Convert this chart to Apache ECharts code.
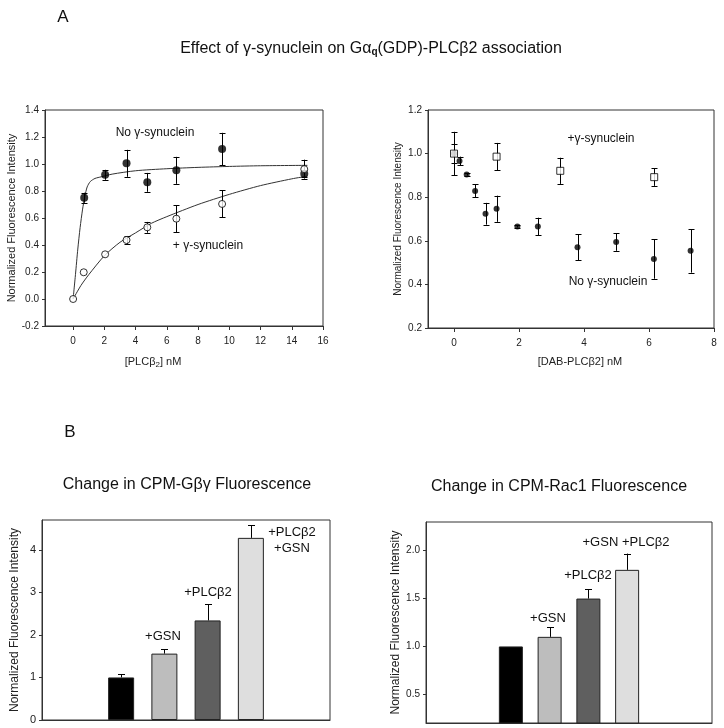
<!DOCTYPE html>
<html><head><meta charset="utf-8">
<script src="https://cdn.jsdelivr.net/npm/echarts@6/dist/echarts.min.js"></script>
<style>html,body{margin:0;padding:0;background:#fff}#c{width:724px;height:728px}</style>
</head><body><div id="c"></div>
<script>
// ---------- Panel A (left): [PLCβ2] titration ----------
const plcConc      = [0.71, 2.05, 3.42, 4.75, 6.61, 9.54, 14.8];
const noGsnMean    = [0.75, 0.92, 1.005, 0.864, 0.953, 1.111, 0.927];
const noGsnErr     = [0.037, 0.037, 0.10, 0.07, 0.10, 0.12, 0.025];
const plcConcGsn   = [0, 0.68, 2.05, 3.42, 4.75, 6.61, 9.54, 14.8];
const gsnMean      = [0, 0.198, 0.331, 0.437, 0.531, 0.595, 0.704, 0.962];
const gsnErr       = [0, 0, 0, 0.03, 0.04, 0.10, 0.10, 0.07];
const fitNoGsnX    = [0, 0.15, 0.3, 0.45, 0.6, 0.75, 0.9, 1.1, 1.4, 1.8, 2.5, 4, 6, 8, 10, 12, 15];
const fitNoGsnY    = [0, 0.18, 0.37, 0.53, 0.66, 0.76, 0.83, 0.87, 0.893, 0.905, 0.925, 0.95, 0.965, 0.975, 0.982, 0.987, 0.99];
const fitGsnX      = [0, 0.5, 1, 2, 3, 4, 5, 6, 8, 10, 12, 14, 15];
const fitGsnY      = [0, 0.1, 0.18, 0.32, 0.42, 0.49, 0.56, 0.61, 0.7, 0.775, 0.84, 0.89, 0.91];
const aLeftXTicks  = [0, 2, 4, 6, 8, 10, 12, 14, 16];

// ---------- Panel A (right): [DAB-PLCβ2] titration ----------
const dabConcGsn   = [0, 1.31, 3.27, 6.16];
const dabGsnMean   = [1.0, 0.986, 0.921, 0.892];
const dabGsnErr    = [0.10, 0.063, 0.06, 0.04];
const dabConc      = [0, 0.17, 0.39, 0.65, 0.97, 1.31, 1.95, 2.58, 3.80, 4.99, 6.15, 7.28];
const dabMean      = [1.0, 0.966, 0.904, 0.829, 0.724, 0.747, 0.666, 0.666, 0.57, 0.594, 0.516, 0.554];
const dabErr       = [0.042, 0.02, 0.005, 0.03, 0.05, 0.06, 0.005, 0.04, 0.06, 0.04, 0.09, 0.10];
const aRightXTicks = [0, 2, 4, 6, 8];

// ---------- Panel B ----------
const barPos       = [1, 2, 3, 4];
const barColors    = ['#000000', '#bdbdbd', '#5f5f5f', '#dedede'];
const gbgMean      = [1.0, 1.56, 2.34, 4.28];
const gbgErr       = [0.07, 0.10, 0.38, 0.30];
const gbgTicks     = [0, 1, 2, 3, 4];
const rac1Mean     = [1.0, 1.1, 1.5, 1.8];
const rac1Err      = [0, 0.1, 0.1, 0.17];
const rac1Ticks    = [0.5, 1.0, 1.5, 2.0];

const FONT = 'Liberation Sans, Arial, sans-serif';
const NARROW = 'Liberation Sans Narrow, Liberation Sans, Arial, sans-serif';
const AX = '#333';

const zip2 = (xs, ys) => xs.map((x, i) => [x, ys[i]]);
const zip3 = (xs, ys, es) => xs.map((x, i) => [x, ys[i], es[i]]);

function errRender(capHalf, upOnly) {
  return function (params, api) {
    const x = api.value(0), y = api.value(1), e = api.value(2);
    if (!e) return null;
    const p0 = api.coord([x, upOnly ? y : y - e]);
    const p1 = api.coord([x, y + e]);
    const st = { stroke: '#000', lineWidth: 1 };
    const cx = Math.round(p0[0]) + 0.5;
    const ch = [
      { type: 'line', shape: { x1: cx, y1: p0[1], x2: cx, y2: p1[1] }, style: st },
      { type: 'line', shape: { x1: cx - capHalf, y1: Math.round(p1[1]) + 0.5, x2: cx + capHalf, y2: Math.round(p1[1]) + 0.5 }, style: st }
    ];
    if (!upOnly) ch.push({ type: 'line', shape: { x1: cx - capHalf, y1: Math.round(p0[1]) + 0.5, x2: cx + capHalf, y2: Math.round(p0[1]) + 0.5 }, style: st });
    return { type: 'group', children: ch };
  };
}

const gridBase = { show: true, borderColor: AX, borderWidth: 1, backgroundColor: '#fff' };
const grids = [
  Object.assign({ left: 45, top: 110, width: 278, height: 216 }, gridBase),
  Object.assign({ left: 428, top: 110, width: 286, height: 218 }, gridBase),
  Object.assign({ left: 42, top: 520, width: 288, height: 200 }, gridBase),
  Object.assign({ left: 426, top: 522, width: 286, height: 201 }, gridBase)
];

function valX(gi, min, max, ticks, fs) {
  return {
    type: 'value', gridIndex: gi, min: min, max: max,
    axisLine: { onZero: false, lineStyle: { color: AX } },
    axisTick: { show: true, customValues: ticks, length: 4, lineStyle: { color: AX } },
    axisLabel: { customValues: ticks, fontSize: fs, fontFamily: NARROW, color: '#222', margin: 10 },
    splitLine: { show: false }
  };
}
function valY(gi, min, max, ticks, fs, dec, name, nameFs, gap) {
  return {
    type: 'value', gridIndex: gi, min: min, max: max,
    axisLine: { onZero: false, lineStyle: { color: AX } },
    axisTick: { show: true, customValues: ticks, length: 3, lineStyle: { color: AX } },
    axisLabel: { customValues: ticks, fontSize: fs, fontFamily: gi < 2 ? NARROW : FONT, color: '#222', margin: 6,
      formatter: v => v.toFixed(dec) },
    splitLine: { show: false },
    name: name, nameLocation: 'middle', nameGap: gap, nameRotate: 90,
    nameTextStyle: { fontSize: nameFs, fontFamily: gi === 1 ? NARROW : FONT, color: '#222' }
  };
}
function barX(gi, min, max) {
  return {
    type: 'value', gridIndex: gi, min: min, max: max,
    axisLine: { onZero: false, lineStyle: { color: AX } },
    axisTick: { show: false }, axisLabel: { show: false }, splitLine: { show: false }
  };
}

const yTicksA1 = [-0.2, 0, 0.2, 0.4, 0.6, 0.8, 1.0, 1.2, 1.4];
const yTicksA2 = [0.2, 0.4, 0.6, 0.8, 1.0, 1.2];

const option = {
  animation: false,
  backgroundColor: '#fff',
  grid: grids,
  xAxis: [
    valX(0, -1.8, 16, aLeftXTicks, 10),
    valX(1, -0.8, 8, aRightXTicks, 10),
    barX(2, -0.83, 5.83),
    barX(3, -1.19, 6.19)
  ],
  yAxis: [
    valY(0, -0.2, 1.4, yTicksA1, 10, 1, 'Normalized Fluorescence Intensity', 11, 27),
    valY(1, 0.2, 1.2, yTicksA2, 10, 1, 'Normalized Fluorescence Intensity', 10, 25),
    valY(2, 0, 4.7, gbgTicks, 11, 0, 'Normalized Fluorescence Intensity', 12, 21),
    valY(3, 0.2, 2.3, rac1Ticks, 10, 1, 'Normalized Fluorescence Intensity', 12, 24)
  ],
  series: [
    // Panel A left
    { type: 'line', xAxisIndex: 0, yAxisIndex: 0, data: zip2(fitNoGsnX, fitNoGsnY), showSymbol: false,
      smooth: 0.25, lineStyle: { color: '#333', width: 1 }, z: 2 },
    { type: 'line', xAxisIndex: 0, yAxisIndex: 0, data: zip2(fitGsnX, fitGsnY), showSymbol: false,
      smooth: 0.25, lineStyle: { color: '#333', width: 1 }, z: 2 },
    { type: 'custom', xAxisIndex: 0, yAxisIndex: 0, data: zip3(plcConc, noGsnMean, noGsnErr),
      renderItem: errRender(3, false), encode: { x: 0, y: 1 }, z: 3 },
    { type: 'custom', xAxisIndex: 0, yAxisIndex: 0, data: zip3(plcConcGsn, gsnMean, gsnErr),
      renderItem: errRender(3, false), encode: { x: 0, y: 1 }, z: 3 },
    { type: 'scatter', xAxisIndex: 0, yAxisIndex: 0, data: zip2(plcConc, noGsnMean), symbol: 'circle', symbolSize: 8,
      itemStyle: { color: '#000' }, z: 4 },
    { type: 'scatter', xAxisIndex: 0, yAxisIndex: 0, data: zip2(plcConcGsn, gsnMean), symbol: 'circle', symbolSize: 7,
      itemStyle: { color: '#fff', borderColor: '#000', borderWidth: 1 }, z: 5 },
    // Panel A right
    { type: 'custom', xAxisIndex: 1, yAxisIndex: 1, data: zip3(dabConc, dabMean, dabErr),
      renderItem: errRender(3, false), encode: { x: 0, y: 1 }, z: 3 },
    { type: 'custom', xAxisIndex: 1, yAxisIndex: 1, data: zip3(dabConcGsn, dabGsnMean, dabGsnErr),
      renderItem: errRender(3, false), encode: { x: 0, y: 1 }, z: 3 },
    { type: 'scatter', xAxisIndex: 1, yAxisIndex: 1, data: zip2(dabConc, dabMean), symbol: 'circle', symbolSize: 6,
      itemStyle: { color: '#000' }, z: 4 },
    { type: 'scatter', xAxisIndex: 1, yAxisIndex: 1, data: zip2(dabConcGsn, dabGsnMean), symbol: 'rect', symbolSize: 7,
      itemStyle: { color: '#fff', borderColor: '#000', borderWidth: 1 }, z: 5 },
    // Panel B left
    { type: 'bar', xAxisIndex: 2, yAxisIndex: 2, barWidth: 26,
      data: barPos.map((x, i) => ({ value: [x, gbgMean[i]], itemStyle: { color: barColors[i], borderColor: '#222', borderWidth: 1 } })), z: 2 },
    { type: 'custom', xAxisIndex: 2, yAxisIndex: 2, data: zip3(barPos, gbgMean, gbgErr),
      renderItem: errRender(3.5, true), encode: { x: 0, y: 1 }, z: 3 },
    // Panel B right
    { type: 'bar', xAxisIndex: 3, yAxisIndex: 3, barWidth: 24,
      data: barPos.map((x, i) => ({ value: [x, rac1Mean[i]], itemStyle: { color: barColors[i], borderColor: '#222', borderWidth: 1 } })), z: 2 },
    { type: 'custom', xAxisIndex: 3, yAxisIndex: 3, data: zip3(barPos, rac1Mean, rac1Err),
      renderItem: errRender(3.5, true), encode: { x: 0, y: 1 }, z: 3 }
  ],
  graphic: [
    { type: 'text', x: 63, y: 17, style: { text: 'A', fontSize: 17, fontFamily: FONT, fill: '#111', align: 'center', verticalAlign: 'middle' } },
    { type: 'text', x: 70, y: 432, style: { text: 'B', fontSize: 17, fontFamily: FONT, fill: '#111', align: 'center', verticalAlign: 'middle' } },
    { type: 'text', x: 371, y: 49, style: { text: 'Effect of γ-synuclein on Gα{q|q}(GDP)-PLCβ2 association', fontSize: 16, fontFamily: FONT, fill: '#111',
        align: 'center', verticalAlign: 'middle', rich: { q: { fontSize: 10, fontWeight: 'bold', fontFamily: FONT, fill: '#111', padding: [7, 0, 0, 0] } } } },
    { type: 'text', x: 155, y: 133, style: { text: 'No γ-synuclein', fontSize: 12, fontFamily: FONT, fill: '#111', align: 'center', verticalAlign: 'middle' } },
    { type: 'text', x: 208, y: 246, style: { text: '+ γ-synuclein', fontSize: 12, fontFamily: FONT, fill: '#111', align: 'center', verticalAlign: 'middle' } },
    { type: 'text', x: 153, y: 362, style: { text: '[PLCβ{s|2}] nM', fontSize: 11, fontFamily: NARROW, fill: '#222', align: 'center', verticalAlign: 'middle',
        rich: { s: { fontSize: 8, fontFamily: NARROW, fill: '#222', padding: [5, 0, 0, 0] } } } },
    { type: 'text', x: 601, y: 139, style: { text: '+γ-synuclein', fontSize: 12, fontFamily: FONT, fill: '#111', align: 'center', verticalAlign: 'middle' } },
    { type: 'text', x: 608, y: 282, style: { text: 'No γ-synuclein', fontSize: 12, fontFamily: FONT, fill: '#111', align: 'center', verticalAlign: 'middle' } },
    { type: 'text', x: 580, y: 362, style: { text: '[DAB-PLCβ2] nM', fontSize: 11, fontFamily: NARROW, fill: '#222', align: 'center', verticalAlign: 'middle' } },
    { type: 'text', x: 187, y: 485, style: { text: 'Change in CPM-Gβγ Fluorescence', fontSize: 16, fontFamily: FONT, fill: '#111', align: 'center', verticalAlign: 'middle' } },
    { type: 'text', x: 559, y: 487, style: { text: 'Change in CPM-Rac1 Fluorescence', fontSize: 16, fontFamily: FONT, fill: '#111', align: 'center', verticalAlign: 'middle' } },
    { type: 'text', x: 163, y: 636, style: { text: '+GSN', fontSize: 13, fontFamily: FONT, fill: '#111', align: 'center', verticalAlign: 'middle' } },
    { type: 'text', x: 208, y: 592, style: { text: '+PLCβ2', fontSize: 13, fontFamily: FONT, fill: '#111', align: 'center', verticalAlign: 'middle' } },
    { type: 'text', x: 292, y: 540, style: { text: '+PLCβ2\n+GSN', fontSize: 13, lineHeight: 16, fontFamily: FONT, fill: '#111', align: 'center', verticalAlign: 'middle' } },
    { type: 'text', x: 548, y: 618, style: { text: '+GSN', fontSize: 13, fontFamily: FONT, fill: '#111', align: 'center', verticalAlign: 'middle' } },
    { type: 'text', x: 588, y: 575, style: { text: '+PLCβ2', fontSize: 13, fontFamily: FONT, fill: '#111', align: 'center', verticalAlign: 'middle' } },
    { type: 'text', x: 626, y: 542, style: { text: '+GSN +PLCβ2', fontSize: 13, fontFamily: FONT, fill: '#111', align: 'center', verticalAlign: 'middle' } }
  ]
};
const chart = echarts.init(document.getElementById('c'), null, { renderer: 'canvas' });
chart.setOption(option);
</script>
</body></html>
